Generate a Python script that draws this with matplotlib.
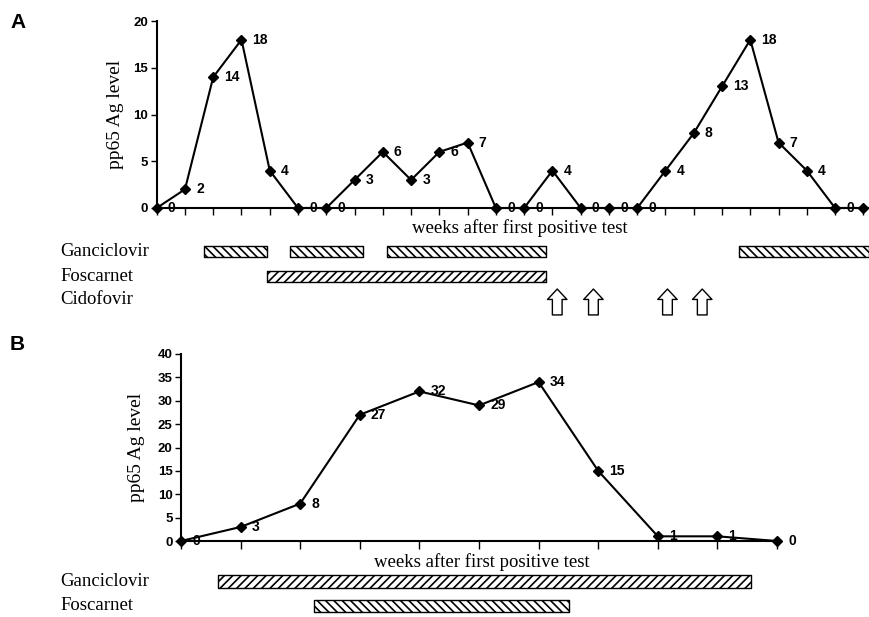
import matplotlib
matplotlib.use("Agg")
import matplotlib.pyplot as plt
import matplotlib.transforms as mtransforms

# ---------------- data ----------------
weeks_A = list(range(26))
level_A = [0, 2, 14, 18, 4, 0, 0, 3, 6, 3, 6, 7, 0, 0, 4, 0, 0, 0, 4, 8, 13, 18, 7, 4, 0, 0]
labels_A = ["0", "2", "14", "18", "4", "0", "0", "3", "6", "3", "6", "7", "0", "0", "4",
            "0", "0", "0", "4", "8", "13", "18", "7", "4", "0", ""]

weeks_B = list(range(11))
level_B = [0, 3, 8, 27, 32, 29, 34, 15, 1, 1, 0]
labels_B = ["0", "3", "8", "27", "32", "29", "34", "15", "1", "1", "0"]

# treatment periods (start, end) in weeks
ganc_A = [(1.68, 3.90), (4.72, 7.30), (8.15, 13.78), (20.61, 25.2)]
fosc_A = [(3.90, 13.78)]
cido_A = [14.17, 15.45, 18.07, 19.30]

ganc_B = [(0.62, 9.56)]
fosc_B = [(2.23, 6.51)]

yticks_A = [0, 5, 10, 15, 20]
yticks_B = [0, 5, 10, 15, 20, 25, 30, 35, 40]

xlabel = "weeks after first positive test"
ylabel = "pp65 Ag level"

# ---------------- figure ----------------
W, H = 869, 617
plt.rcParams["hatch.linewidth"] = 1.2
fig = plt.figure(figsize=(W / 100, H / 100), dpi=100)

SERIF = "Liberation Serif"
SANS = "Liberation Sans"


def px_axes(x0, x1, ytop, ybot):
    return fig.add_axes([x0 / W, 1 - ybot / H, (x1 - x0) / W, (ybot - ytop) / H])


def style_main(ax, xmax, ymax, yticks, ylabel_x, xlabel_x, xlabel_y):
    ax.set_xlim(0, xmax)
    ax.set_ylim(0, ymax)
    for s in ("top", "right"):
        ax.spines[s].set_visible(False)
    for s in ("left", "bottom"):
        ax.spines[s].set_linewidth(1.5)
        ax.spines[s].set_clip_on(False)
    ax.set_yticks(yticks)
    ax.tick_params(axis="y", direction="out", length=4, width=1, pad=2)
    ax.tick_params(axis="x", direction="out", length=5, width=1, labelbottom=False)
    for t in ax.get_yticklabels():
        t.set_fontfamily(SANS)
        t.set_fontweight("bold")
        t.set_fontsize(9.5)
    ax.set_ylabel(ylabel, fontfamily=SERIF, fontsize=14, va="center", ha="center")
    ax.yaxis.set_label_coords(ylabel_x, 0.5)
    ax.set_xlabel(xlabel, fontfamily=SERIF, fontsize=13.5)
    ax.xaxis.set_label_coords(xlabel_x, xlabel_y)


def plot_series(ax, x, y, labels):
    ax.plot(x, y, color="black", lw=1.5, marker="D", markersize=5.5,
            markerfacecolor="black", markeredgecolor="black", clip_on=False, zorder=3)
    for xi, yi, lab in zip(x, y, labels):
        if lab:
            ax.annotate(lab, (xi, yi), xytext=(8, 0), textcoords="offset points",
                        ha="left", va="center", fontfamily=SANS, fontweight="bold",
                        fontsize=10, annotation_clip=False, zorder=4)


def bars(ax, periods, row, height, hatch):
    ax.broken_barh([(a, b - a) for a, b in periods], (row - height / 2, height),
                   facecolor="white", edgecolor="black", hatch=hatch, linewidth=1,
                   clip_on=False)


# ---------------- panel A ----------------
axA = px_axes(156.7, 869, 21, 208)
style_main(axA, 25.2, 20, yticks_A, -0.058, 0.51, -0.06)
axA.set_xticks(weeks_A)
plot_series(axA, weeks_A, level_A, labels_A)

axTA = px_axes(156.7, 869, 239, 327)
axTA.set_xlim(0, 25.2)
axTA.set_ylim(3.0, -0.5)
axTA.axis("off")
bars(axTA, ganc_A, 0, 0.44, "\\\\\\\\")
bars(axTA, fosc_A, 1, 0.44, "////")
for xc in cido_A:
    axTA.annotate("", xy=(xc, 1.49), xytext=(xc, 2.52), xycoords="data",
                  arrowprops=dict(arrowstyle="simple,head_length=0.75,head_width=1.4,tail_width=0.7",
                                  fc="white", ec="black", lw=1, shrinkA=0, shrinkB=0,
                                  mutation_scale=10),
                  annotation_clip=False)
trA = mtransforms.blended_transform_factory(fig.transFigure, axTA.transData)
for r, name in zip([0, 1, 1.9], ["Ganciclovir", "Foscarnet", "Cidofovir"]):
    axTA.text(60 / W, r, name, transform=trA, ha="left", va="center",
              fontfamily=SERIF, fontsize=13.5)

# ---------------- panel B ----------------
axB = px_axes(181, 777, 354, 541)
style_main(axB, 10, 40, yticks_B, -0.074, 0.505, -0.064)
axB.set_xticks(weeks_B)
axB.tick_params(axis="x", length=6)
plot_series(axB, weeks_B, level_B, labels_B)

axTB = px_axes(181, 777, 569.25, 618.25)
axTB.set_xlim(0, 10)
axTB.set_ylim(1.5, -0.5)
axTB.axis("off")
bars(axTB, ganc_B, 0, 0.52, "////")
bars(axTB, fosc_B, 1, 0.5, "\\\\\\\\")
trB = mtransforms.blended_transform_factory(fig.transFigure, axTB.transData)
for r, name in zip([0, 1], ["Ganciclovir", "Foscarnet"]):
    axTB.text(60 / W, r, name, transform=trB, ha="left", va="center",
              fontfamily=SERIF, fontsize=13.5)

# panel letters
fig.text(10 / W, 1 - 22 / H, "A", ha="left", va="center", fontfamily=SANS,
         fontweight="bold", fontsize=15)
fig.text(10 / W, 1 - 345 / H, "B", ha="left", va="center", fontfamily=SANS,
         fontweight="bold", fontsize=15)

fig.savefig("out.png", dpi=100)
